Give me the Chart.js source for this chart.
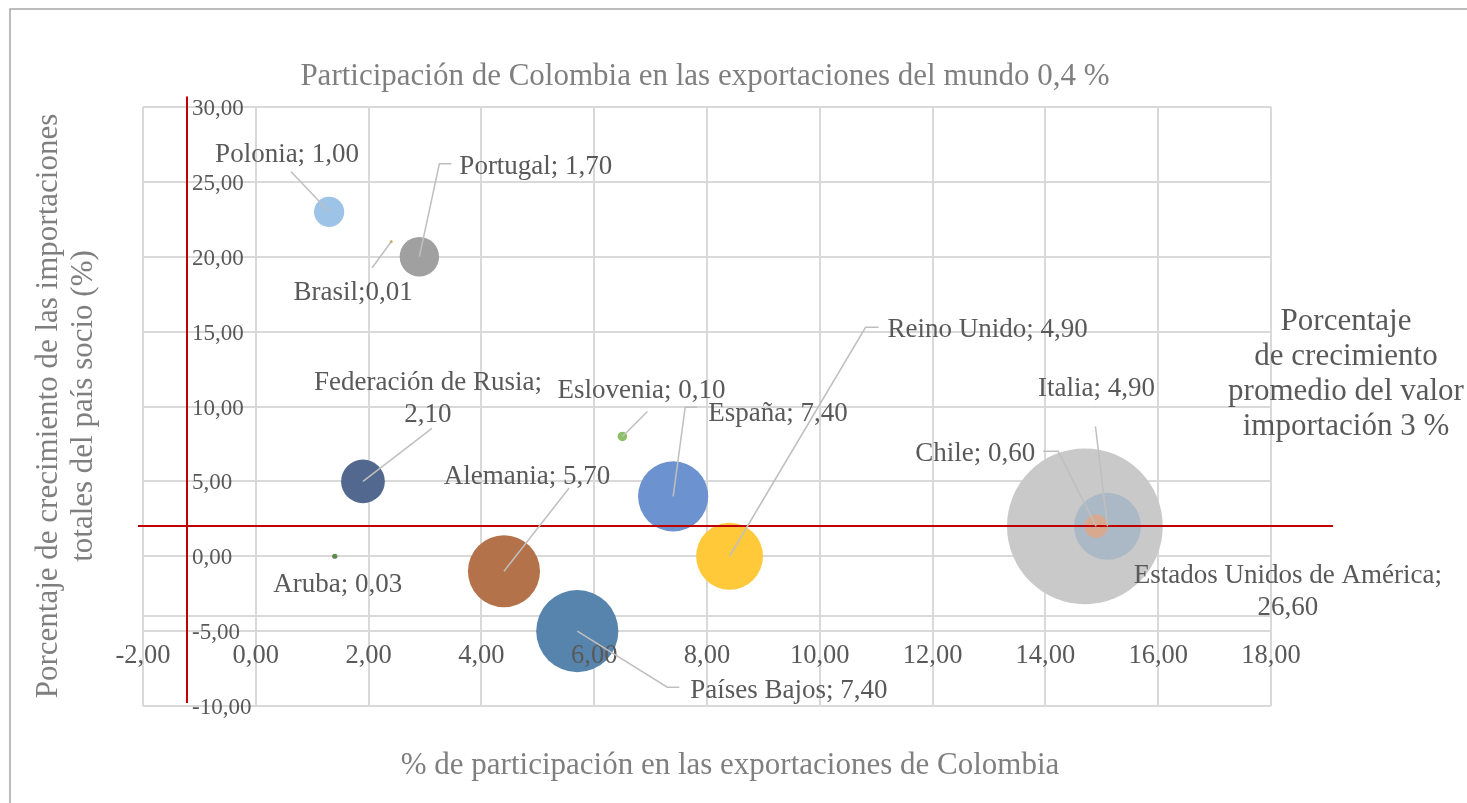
<!DOCTYPE html>
<html lang="es">
<head>
<meta charset="utf-8">
<title>Participación de Colombia en las exportaciones</title>
<script src="https://cdn.jsdelivr.net/npm/chart.js@4.4.1/dist/chart.umd.min.js"></script>
<style>
  html, body { margin: 0; padding: 0; background: #fff; }
  #wrap { width: 1467px; height: 803px; }
</style>
</head>
<body>
<div id="wrap"><canvas id="chart" width="1467" height="803"></canvas></div>
<script>
"use strict";

// Socios comerciales (orden de dibujo: los grandes antes que los pequeños que se solapan)
const countries = ['Polonia', 'Portugal', 'Brasil', 'Federación de Rusia', 'Aruba', 'Eslovenia',
  'España', 'Alemania', 'Países Bajos', 'Reino Unido', 'Estados Unidos de América', 'Italia', 'Chile'];

// % de participación en las exportaciones de Colombia (eje x)
const exportShare = [1.3, 2.9, 2.4, 1.9, 1.4, 6.5, 7.4, 4.4, 5.7, 8.4, 14.7, 15.1, 14.9];

// % de crecimiento de las importaciones totales del país socio (eje y)
const importGrowth = [23, 20, 21, 5, 0, 8, 4, -1, -5, 0, 2, 2, 2];

// valor que muestra cada etiqueta
const labelValues = ['1,00', '1,70', '0,01', '2,10', '0,03', '0,10', '7,40', '5,70', '7,40', '4,90', '26,60', '4,90', '0,60'];

// tamaño de burbuja tal como se ve en el gráfico
const bubbleSizes = [1.0, 1.7, 0.01, 2.1, 0.03, 0.1, 5.4, 5.7, 7.4, 4.9, 26.6, 4.9, 0.6];

// líneas de referencia (rojas)
const refGrowth = 2;      // crecimiento promedio
const refShareX = -1.22;  // línea vertical

// cruce de los ejes
const xAxisCrossY = -4;

// ---- estilo ----
const FONT = '"Liberation Serif", "Times New Roman", serif';
const LABEL_COLOR = '#595959';
const TITLE_COLOR = '#7f7f7f';
const GRID_COLOR = '#d9d9d9';
const LEADER_COLOR = '#bfbfbf';
const RED = '#c00000';
const BUBBLE_K = 15.1;    // px por raíz del tamaño

const bubbleColors = ['#9dc3e6', '#a0a0a0', '#c9a43a', '#52688f', '#5e8a4c', '#8cc068',
  '#6d92d0', '#b4724a', '#5784ac', '#ffc93a', '#c9c9c9', '#abb9c7', '#d7a98f'];

// posición de las etiquetas respecto al centro de la burbuja (px)
const labelLayout = [
  { dx: -42, dy: -60, align: 'center', leader: [[-38, -40]] },                 // Polonia
  { dx: 40, dy: -93, align: 'left', leader: [[20, -93], [32, -93]] },          // Portugal
  { dx: -38, dy: 48, align: 'center', leader: [[-19, 26]], sep: ';' },        // Brasil
  { dx: 65, dy: -101, align: 'center', leader: [[69, -53]], split: true },    // Rusia
  { dx: 3, dy: 26, align: 'center', leader: [] },                             // Aruba
  { dx: 19, dy: -49, align: 'center', leader: [[25, -25]] },                  // Eslovenia
  { dx: 35, dy: -85, align: 'left', leader: [[12, -89], [24, -89]] },          // España
  { dx: 23, dy: -97, align: 'center', leader: [[65, -83]] },                  // Alemania
  { dx: 113, dy: 57, align: 'left', leader: [[90, 56], [102, 56]] },          // Países Bajos
  { dx: 158, dy: -229, align: 'left', leader: [[136, -229], [149, -229]] },   // Reino Unido
  { dx: 203, dy: 47, align: 'center', leader: [], split: true },             // EE. UU.
  { dx: -11, dy: -140, align: 'center', leader: [[-12, -100]] },              // Italia
  { dx: -61, dy: -75, align: 'right', leader: [[-38, -75], [-53, -75]] }      // Chile
];

function fmt(v) {
  return v.toFixed(2).replace('.', ',');
}

const points = exportShare.map(function(x, i) {
  return { x: x, y: importGrowth[i], r: BUBBLE_K * Math.sqrt(bubbleSizes[i]) };
});

const decorPlugin = {
  id: 'decor',

  beforeDraw(chart) {
    const ctx = chart.ctx;
    ctx.save();
    ctx.fillStyle = '#ffffff';
    ctx.fillRect(0, 0, chart.width, chart.height);
    // marco exterior (solo se ven el borde superior e izquierdo)
    ctx.strokeStyle = '#a6a6a6';
    ctx.lineWidth = 1.5;
    ctx.beginPath();
    ctx.moveTo(10, chart.height + 2);
    ctx.lineTo(10, 9);
    ctx.lineTo(chart.width + 2, 9);
    ctx.stroke();
    ctx.restore();
  },

  beforeDatasetsDraw(chart) {
    const ctx = chart.ctx;
    const xs = chart.scales.x, ys = chart.scales.y;
    const yy = Math.round(ys.getPixelForValue(xAxisCrossY));
    ctx.save();
    ctx.strokeStyle = GRID_COLOR;
    ctx.lineWidth = 2;
    ctx.beginPath();
    ctx.moveTo(xs.left, yy);
    ctx.lineTo(xs.right, yy);
    ctx.stroke();
    ctx.restore();
  },

  afterDatasetsDraw(chart) {
    const ctx = chart.ctx;
    const xs = chart.scales.x, ys = chart.scales.y;
    ctx.save();

    // valores de los ejes
    ctx.fillStyle = LABEL_COLOR;
    ctx.textBaseline = 'middle';
    ctx.textAlign = 'center';
    ctx.font = '26.5px ' + FONT;
    const xLabY = ys.getPixelForValue(xAxisCrossY) + 40;
    xs.ticks.forEach(function(t) {
      ctx.fillText(fmt(t.value), xs.getPixelForValue(t.value), xLabY);
    });
    ctx.textAlign = 'left';
    ctx.font = '23px ' + FONT;
    const yLabX = xs.getPixelForValue(refShareX) + 5;
    ys.ticks.forEach(function(t) {
      ctx.fillText(fmt(t.value), yLabX, ys.getPixelForValue(t.value) + 2);
    });

    // líneas rojas
    ctx.strokeStyle = RED;
    ctx.lineWidth = 2;
    ctx.beginPath();
    const ry = Math.round(ys.getPixelForValue(refGrowth));
    ctx.moveTo(xs.getPixelForValue(-2.09), ry);
    ctx.lineTo(xs.getPixelForValue(19.1), ry);
    const rx = Math.round(xs.getPixelForValue(refShareX));
    ctx.moveTo(rx, ys.getPixelForValue(30.7));
    ctx.lineTo(rx, ys.getPixelForValue(-9.8));
    ctx.stroke();

    // líneas guía y etiquetas de datos
    const meta = chart.getDatasetMeta(0);
    ctx.strokeStyle = LEADER_COLOR;
    ctx.lineWidth = 1.5;
    meta.data.forEach(function(el, i) {
      const lay = labelLayout[i];
      if (lay.leader.length) {
        ctx.beginPath();
        ctx.moveTo(el.x, el.y);
        lay.leader.forEach(function(p) { ctx.lineTo(el.x + p[0], el.y + p[1]); });
        ctx.stroke();
      }
    });
    ctx.font = '27px ' + FONT;
    ctx.fillStyle = LABEL_COLOR;
    meta.data.forEach(function(el, i) {
      const lay = labelLayout[i];
      const sep = lay.sep !== undefined ? lay.sep : '; ';
      const ty = el.y + lay.dy + 3;
      ctx.textAlign = lay.align;
      if (lay.split) {
        ctx.fillText(countries[i] + ';', el.x + lay.dx, ty);
        ctx.fillText(labelValues[i], el.x + lay.dx, ty + 32);
      } else {
        ctx.fillText(countries[i] + sep + labelValues[i], el.x + lay.dx, ty);
      }
    });
    ctx.restore();
  },

  afterDraw(chart) {
    const ctx = chart.ctx;
    ctx.save();
    ctx.textBaseline = 'middle';
    ctx.textAlign = 'center';
    ctx.fillStyle = TITLE_COLOR;
    ctx.font = '31px ' + FONT;
    ctx.fillText('Participación de Colombia en las exportaciones del mundo 0,4 %', 705, 77);
    ctx.fillText('% de participación en las exportaciones de Colombia', 730, 766);

    // texto de la línea roja horizontal
    ctx.fillStyle = LABEL_COLOR;
    ctx.font = '31px ' + FONT;
    ['Porcentaje', 'de crecimiento', 'promedio del valor', 'importación 3 %'].forEach(function(s, i) {
      ctx.fillText(s, 1346, 322 + i * 35);
    });

    // título eje y
    ctx.fillStyle = TITLE_COLOR;
    ctx.font = '31px ' + FONT;
    ctx.translate(0, 406);
    ctx.rotate(-Math.PI / 2);
    ctx.fillText('Porcentaje de crecimiento de las importaciones', 0, 49);
    ctx.fillText('totales del país socio (%)', 0, 84);
    ctx.restore();
  }
};

new Chart(document.getElementById('chart'), {
  type: 'bubble',
  data: {
    datasets: [{
      label: 'Socios',
      data: points,
      backgroundColor: bubbleColors,
      borderWidth: 0,
      hoverRadius: 0
    }]
  },
  options: {
    responsive: false,
    animation: false,
    events: [],
    layout: {
      autoPadding: false,
      padding: { left: 143, top: 107, right: 196, bottom: 97 }
    },
    plugins: {
      legend: { display: false },
      tooltip: { enabled: false },
      title: { display: false }
    },
    scales: {
      x: {
        type: 'linear',
        min: -2, max: 18,
        ticks: { stepSize: 2, display: false },
        grid: { color: GRID_COLOR, lineWidth: 2, drawTicks: false },
        border: { display: false }
      },
      y: {
        type: 'linear',
        min: -10, max: 30,
        ticks: { stepSize: 5, display: false },
        grid: { color: GRID_COLOR, lineWidth: 2, drawTicks: false },
        border: { display: false }
      }
    }
  },
  plugins: [decorPlugin]
});
</script>
</body>
</html>
